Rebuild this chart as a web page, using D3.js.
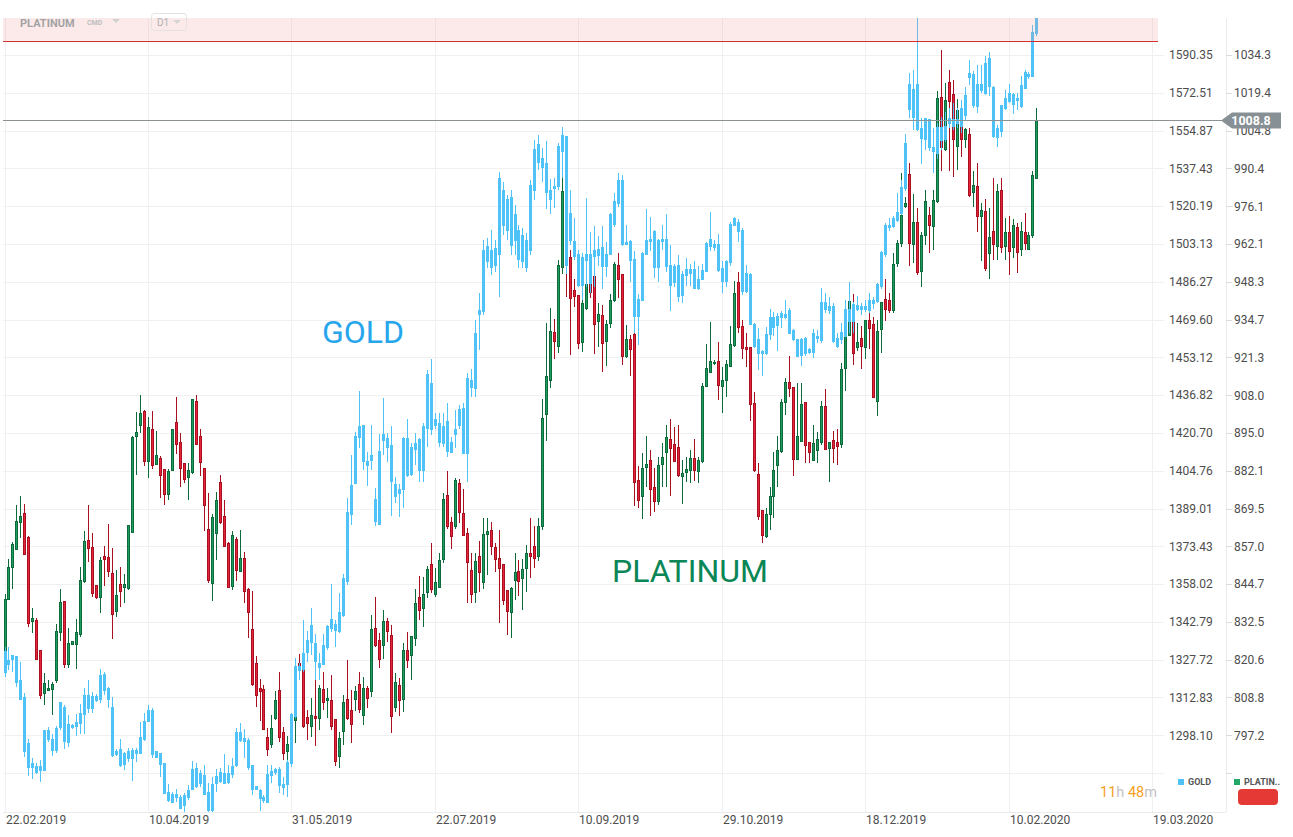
<!DOCTYPE html>
<html><head><meta charset="utf-8">
<script src="https://cdn.jsdelivr.net/npm/d3@7"></script>
<style>body{margin:0;background:#fff;overflow:hidden}svg{display:block;font-family:Roboto,"Noto Sans",sans-serif}</style>
</head><body><svg id="c" width="1293" height="837"></svg>
<script>
// ---------- DATA ----------
const dateLabels = ["22.02.2019","10.04.2019","31.05.2019","22.07.2019","10.09.2019","29.10.2019","18.12.2019","10.02.2020","19.03.2020"];
const dateTickBars = [0,36,72,108,144,180,216,252,288];
const goldTicks = [1590.35,1572.51,1554.87,1537.43,1520.19,1503.13,1486.27,1469.60,1453.12,1436.82,1420.70,1404.76,1389.01,1373.43,1358.02,1342.79,1327.72,1312.83,1298.10];
const platTicks = [1034.3,1019.4,1004.8,990.4,976.1,962.1,948.3,934.7,921.3,908.0,895.0,882.1,869.5,857.0,844.7,832.5,820.6,808.8,797.2];
const goldGridExtra = [1283.5];
const alertLevelPlat = 1039.9;

const goldOpen = [
1322.6,1327.3,1327.9,1329.0,1319.7,1312.9,1295.0,1285.6,1286.2,1286.2,
1284.7,1300.1,1296.3,1292.4,1301.1,1309.0,1295.4,1301.1,1301.7,1302.7,
1306.0,1313.8,1308.6,1313.4,1311.9,1321.7,1316.4,1309.0,1290.8,1292.8,
1286.9,1289.0,1289.0,1291.1,1291.1,1296.3,1303.6,1307.7,1292.0,1291.1,
1287.3,1276.2,1272.4,1275.4,1274.1,1271.3,1274.2,1277.3,1278.6,1279.6,
1282.8,1276.2,1269.2,1282.4,1280.2,1283.4,1279.9,1283.0,1286.4,1299.2,
1296.7,1295.9,1286.6,1278.3,1277.0,1274.2,1272.4,1282.8,1285.1,1285.1,
1278.1,1279.0,1287.3,1305.4,1325.2,1323.7,1330.7,1334.7,1334.3,1324.7,
1325.9,1332.5,1343.6,1341.6,1338.9,1345.5,1359.0,1386.6,1399.5,1418.8,
1423.8,1408.8,1409.0,1392.9,1382.5,1420.2,1418.4,1415.2,1399.2,1395.3,
1397.0,1418.4,1403.3,1416.3,1418.0,1404.8,1422.7,1441.8,1426.2,1424.8,
1416.3,1425.7,1412.5,1420.1,1423.7,1430.9,1412.1,1443.3,1439.7,1471.8,
1473.3,1502.2,1492.4,1501.3,1498.2,1527.5,1509.3,1523.9,1504.9,1509.3,
1495.1,1504.9,1500.4,1527.5,1540.3,1541.8,1539.5,1527.5,1528.4,1529.3,
1545.1,1552.1,1517.0,1504.4,1498.5,1484.4,1495.7,1498.5,1500.4,1497.9,
1501.4,1493.1,1498.5,1512.0,1521.5,1532.1,1503.0,1504.4,1496.3,1470.8,
1478.2,1498.5,1504.3,1508.9,1492.4,1504.1,1505.3,1493.7,1485.8,1493.4,
1480.2,1489.0,1491.5,1491.5,1483.3,1487.3,1490.7,1502.2,1501.5,1502.9,
1492.0,1486.3,1494.9,1511.3,1512.7,1509.3,1481.8,1489.5,1467.6,1460.8,
1455.8,1454.7,1463.1,1470.6,1466.9,1470.4,1471.9,1473.4,1464.6,1460.8,
1454.1,1454.7,1456.6,1455.3,1461.4,1460.6,1476.9,1473.4,1475.5,1457.7,
1460.9,1462.4,1474.1,1468.6,1474.1,1474.1,1475.2,1473.4,1476.7,1477.4,
1484.1,1498.2,1510.4,1510.9,1513.7,1517.0,1528.2,1576.2,1560.8,1576.5,
1555.9,1550.9,1559.8,1547.2,1544.4,1550.5,1550.9,1558.2,1559.8,1558.2,
1565.0,1561.7,1579.8,1581.2,1566.1,1576.2,1572.3,1588.5,1575.1,1551.7,
1554.4,1565.3,1568.5,1571.5,1570.0,1566.1,1574.7,1581.3,1580.4,1600.8];
const goldHigh = [
1332.7,1332.9,1329.5,1329.3,1326.7,1314.7,1296.6,1289.2,1287.3,1288.5,
1300.1,1301.2,1298.5,1301.8,1311.2,1309.9,1306.0,1302.5,1306.3,1310.2,
1316.4,1319.7,1315.1,1314.2,1323.9,1323.0,1316.8,1313.1,1292.8,1296.7,
1291.5,1293.1,1293.3,1293.3,1303.3,1306.7,1309.9,1308.6,1292.1,1291.4,
1287.4,1279.3,1276.4,1277.3,1275.2,1275.8,1279.0,1288.1,1287.3,1284.9,
1286.6,1279.6,1282.1,1285.1,1285.6,1290.9,1286.6,1289.5,1300.8,1302.7,
1300.5,1297.0,1286.8,1278.6,1277.3,1275.2,1286.6,1286.6,1285.5,1286.0,
1282.1,1288.5,1306.7,1328.3,1326.3,1343.6,1339.3,1348.3,1338.0,1330.3,
1338.0,1341.6,1358.0,1343.6,1354.3,1362.1,1393.3,1411.4,1421.2,1438.7,
1424.0,1412.7,1424.0,1397.4,1420.2,1435.7,1420.5,1423.7,1402.3,1399.2,
1419.1,1426.6,1416.3,1420.5,1418.4,1425.0,1447.6,1452.3,1429.3,1429.3,
1429.3,1433.6,1419.1,1430.5,1432.5,1433.3,1446.2,1447.9,1469.4,1481.2,
1504.9,1505.8,1509.3,1504.9,1535.8,1531.1,1525.3,1527.5,1520.7,1511.5,
1510.2,1507.9,1532.1,1550.5,1552.8,1546.7,1550.2,1532.6,1533.2,1549.0,
1556.7,1552.4,1527.5,1514.7,1500.4,1498.9,1523.8,1508.3,1511.3,1506.6,
1511.3,1504.1,1517.0,1526.3,1535.5,1534.4,1511.7,1504.9,1500.1,1480.9,
1499.4,1518.9,1515.2,1509.3,1505.3,1511.7,1516.7,1502.6,1494.3,1498.2,
1491.1,1496.9,1494.3,1495.3,1493.1,1494.3,1504.1,1517.7,1504.9,1507.5,
1495.3,1496.0,1513.1,1515.5,1514.4,1510.1,1493.7,1490.0,1468.2,1465.8,
1456.3,1466.5,1474.1,1473.0,1472.6,1473.4,1478.2,1474.5,1465.4,1461.2,
1461.4,1462.1,1457.0,1465.4,1465.0,1483.3,1481.2,1479.7,1476.7,1463.6,
1468.2,1478.2,1486.0,1477.4,1480.0,1477.1,1478.4,1481.2,1479.7,1485.6,
1500.1,1512.5,1514.7,1515.8,1526.0,1532.1,1553.3,1582.0,1583.3,1608.0,
1560.9,1560.9,1560.0,1555.9,1558.5,1561.1,1563.7,1565.3,1567.9,1565.3,
1569.1,1575.4,1588.0,1583.0,1585.6,1585.6,1589.9,1591.6,1575.8,1557.5,
1566.9,1573.8,1576.5,1572.6,1572.3,1580.4,1583.3,1582.2,1604.6,1609.5];
const goldLow = [
1321.0,1323.7,1323.0,1316.8,1311.9,1289.8,1282.5,1281.1,1283.2,1280.2,
1284.4,1295.6,1290.2,1291.4,1300.1,1292.7,1293.7,1300.5,1298.0,1298.6,
1298.5,1306.7,1306.7,1311.1,1310.6,1313.8,1308.6,1289.8,1290.1,1286.0,
1284.9,1287.9,1280.6,1287.9,1291.0,1296.0,1303.3,1289.2,1289.2,1282.1,
1275.5,1272.6,1272.0,1272.4,1269.8,1268.8,1273.3,1277.2,1277.7,1278.3,
1275.2,1268.8,1268.8,1276.4,1279.6,1279.3,1279.2,1281.5,1286.0,1295.6,
1289.2,1284.7,1275.2,1277.0,1269.2,1272.0,1272.0,1279.6,1283.0,1275.8,
1275.2,1274.5,1286.0,1305.0,1319.7,1323.0,1326.9,1329.6,1319.7,1319.7,
1325.8,1331.6,1338.9,1332.9,1338.2,1344.9,1357.7,1382.2,1399.2,1414.2,
1405.0,1398.4,1405.0,1381.8,1382.2,1411.4,1408.5,1385.9,1391.4,1385.4,
1389.1,1402.3,1402.5,1407.1,1400.2,1399.9,1414.9,1419.8,1422.2,1414.6,
1414.9,1410.6,1412.1,1414.2,1422.2,1412.0,1400.2,1436.1,1436.1,1456.3,
1471.6,1492.4,1489.2,1490.6,1479.5,1507.1,1504.9,1498.2,1498.2,1492.4,
1492.4,1490.6,1498.2,1523.0,1536.7,1531.4,1518.8,1516.7,1519.2,1527.5,
1533.0,1489.7,1502.6,1496.0,1483.8,1478.2,1484.1,1481.2,1484.1,1493.1,
1482.9,1488.5,1498.0,1510.9,1520.0,1502.2,1502.6,1486.3,1463.6,1458.7,
1477.9,1498.0,1500.1,1487.8,1486.3,1500.4,1490.7,1473.4,1483.8,1477.4,
1476.7,1484.5,1484.5,1482.9,1482.6,1487.0,1490.4,1500.1,1500.1,1490.7,
1481.2,1484.1,1493.1,1511.0,1504.1,1480.4,1481.2,1467.2,1457.0,1447.6,
1445.0,1454.0,1460.6,1462.4,1455.8,1466.0,1469.8,1463.2,1460.3,1453.7,
1449.4,1453.7,1454.7,1453.0,1459.4,1459.4,1472.6,1472.0,1459.4,1457.3,
1458.9,1461.8,1463.6,1463.6,1473.4,1471.6,1473.0,1472.6,1474.1,1476.7,
1482.9,1497.4,1509.0,1510.5,1512.8,1516.2,1527.2,1560.6,1555.2,1554.8,
1539.4,1545.9,1545.6,1535.5,1541.6,1545.9,1549.8,1555.9,1555.2,1555.9,
1553.6,1559.8,1576.2,1565.3,1563.2,1572.3,1571.5,1571.0,1551.3,1547.2,
1552.1,1564.5,1567.7,1562.6,1564.5,1565.3,1574.7,1578.9,1579.8,1599.3];
const goldClose = [
1330.9,1326.0,1329.3,1318.6,1312.1,1291.8,1285.6,1287.3,1283.7,1284.7,
1300.1,1296.3,1292.2,1300.8,1311.0,1295.6,1302.1,1302.0,1303.1,1306.4,
1313.8,1308.6,1313.4,1311.6,1321.3,1315.5,1311.9,1290.2,1292.0,1286.4,
1291.1,1292.0,1292.4,1292.2,1297.3,1303.6,1307.9,1290.8,1289.5,1286.9,
1275.8,1272.9,1275.2,1274.1,1270.1,1274.9,1276.7,1284.9,1285.3,1283.4,
1275.4,1269.2,1279.2,1279.6,1283.8,1279.6,1283.4,1286.0,1299.2,1295.9,
1295.6,1285.6,1277.3,1277.3,1273.7,1273.0,1283.0,1284.3,1283.7,1278.7,
1279.3,1287.6,1306.0,1325.2,1323.4,1330.1,1335.2,1341.2,1326.9,1326.3,
1333.2,1340.9,1340.2,1339.3,1346.5,1360.1,1387.5,1398.7,1419.1,1423.3,
1408.5,1407.1,1411.2,1383.6,1413.0,1417.6,1414.6,1400.2,1393.9,1397.0,
1418.4,1402.7,1414.6,1413.8,1405.0,1423.6,1445.7,1422.3,1423.7,1416.6,
1423.6,1412.9,1416.7,1422.3,1430.8,1412.1,1444.0,1440.0,1463.6,1473.7,
1500.0,1495.1,1500.4,1493.7,1533.0,1511.5,1523.0,1502.6,1516.2,1496.0,
1507.1,1492.4,1529.8,1545.9,1548.2,1537.7,1526.3,1523.0,1529.0,1547.4,
1552.4,1493.4,1504.6,1497.7,1484.4,1497.0,1498.6,1485.6,1497.4,1500.7,
1493.1,1498.5,1516.2,1522.2,1531.7,1503.0,1503.7,1495.7,1471.1,1478.5,
1498.9,1504.6,1505.3,1492.6,1504.9,1505.3,1493.1,1484.8,1493.1,1479.7,
1489.7,1491.5,1490.0,1483.3,1487.3,1491.1,1503.4,1505.3,1502.9,1491.3,
1486.3,1495.5,1511.9,1514.4,1508.8,1482.1,1490.0,1467.5,1457.7,1454.7,
1454.7,1463.1,1470.6,1466.0,1471.1,1472.3,1470.6,1463.6,1461.0,1453.7,
1461.0,1461.4,1455.1,1463.6,1462.4,1477.1,1474.1,1475.5,1459.8,1461.4,
1463.8,1474.1,1468.6,1476.3,1475.6,1475.2,1474.1,1478.2,1478.2,1485.1,
1499.4,1511.3,1511.3,1514.7,1517.3,1528.8,1549.0,1564.5,1574.2,1555.2,
1551.3,1560.3,1547.2,1545.1,1556.2,1556.4,1557.0,1560.6,1557.0,1560.1,
1557.0,1571.4,1581.7,1566.6,1576.2,1573.5,1586.4,1575.4,1552.1,1555.9,
1566.5,1570.0,1572.0,1567.2,1568.7,1575.8,1582.2,1580.1,1601.2,1608.5];

const platOpen = [
823.1,839.8,850.2,856.1,864.8,867.7,860.0,832.6,833.1,823.6,
810.1,810.9,811.4,814.1,829.1,839.2,819.0,825.3,825.3,828.7,
845.5,859.0,856.7,844.1,840.4,853.7,853.4,848.0,836.0,844.6,
843.5,843.3,861.6,893.7,897.6,902.4,885.2,896.2,884.4,886.3,
882.7,874.2,882.1,898.6,891.9,884.6,879.9,881.6,905.7,893.9,
883.0,862.4,845.0,861.3,878.2,867.0,858.0,843.9,859.4,848.8,
853.0,843.1,830.0,819.5,811.5,811.4,796.6,794.5,802.3,811.1,
798.1,792.4,794.0,801.7,819.5,817.4,802.7,799.8,803.1,802.3,
811.4,807.8,807.8,801.9,790.8,798.3,808.2,804.7,808.2,812.7,
803.4,811.6,810.6,830.5,826.5,825.0,832.7,828.2,805.7,812.4,
808.2,823.6,821.8,827.2,840.4,836.8,842.0,851.0,841.5,843.7,
852.8,873.9,865.0,863.5,877.9,867.9,861.3,849.2,842.0,853.8,
845.2,860.9,862.1,856.5,853.0,851.0,842.5,835.5,845.8,848.7,
846.6,849.6,854.7,857.1,853.6,863.5,901.5,913.1,930.2,925.0,
953.4,970.4,957.1,945.0,943.2,926.5,938.5,947.5,950.4,933.9,
936.3,926.8,933.2,941.6,954.3,950.8,921.5,927.6,929.3,878.7,
873.4,883.4,885.7,876.6,871.8,884.2,888.3,892.6,890.9,890.1,
880.1,881.4,882.1,886.4,881.8,885.2,911.0,916.1,919.0,919.9,
911.0,913.2,918.0,925.4,948.1,932.1,924.8,924.8,905.2,880.9,
868.7,860.2,867.4,873.6,884.0,888.5,905.4,912.4,910.7,886.0,
892.2,905.4,891.7,885.7,889.1,891.8,904.1,889.7,892.3,891.7,
890.9,917.3,928.9,940.0,924.9,928.0,924.8,934.2,933.0,905.7,
931.0,942.0,941.5,937.9,955.1,962.3,975.9,988.0,962.1,970.0,
952.0,965.1,972.5,968.6,977.8,1017.5,997.6,1023.5,1018.9,998.8,
1012.9,1001.4,1003.4,981.2,983.6,972.2,974.0,958.7,966.8,961.1,
982.1,961.1,966.2,960.7,968.4,960.1,966.3,960.2,965.4,986.7];
const platHigh = [
841.5,852.9,858.5,870.7,873.7,871.0,860.3,837.0,833.7,823.8,
816.5,814.3,813.7,831.8,843.1,839.4,830.7,826.5,833.4,850.4,
862.0,870.7,861.3,844.3,853.6,857.1,864.4,856.4,849.2,850.4,
848.0,864.0,893.9,902.1,908.0,902.9,900.5,902.5,895.6,887.1,
882.9,882.9,896.4,907.4,894.9,884.8,884.6,906.8,908.0,896.2,
883.2,874.6,867.6,875.0,880.7,872.3,858.5,862.1,860.2,862.4,
855.1,843.3,842.5,821.7,814.7,812.7,799.3,803.4,810.8,816.7,
799.8,797.1,797.5,812.0,822.3,817.6,805.0,808.6,816.4,812.7,
816.6,811.9,815.9,802.0,798.3,809.6,820.5,811.1,812.4,816.6,
815.3,812.4,834.7,840.4,828.9,836.3,833.7,831.5,816.4,814.8,
825.8,829.2,828.2,843.0,847.4,846.9,850.6,858.0,849.9,854.9,
874.6,882.0,866.6,879.6,879.2,875.9,863.0,854.7,854.9,858.7,
866.3,866.3,864.9,858.0,862.4,851.2,842.8,843.9,854.7,852.5,
852.8,857.4,866.3,863.7,866.3,906.7,933.4,938.7,934.8,956.1,
986.7,977.2,959.9,949.2,943.5,942.2,950.4,950.1,955.5,940.7,
940.0,934.5,944.0,955.5,958.7,950.9,932.8,929.1,930.1,883.7,
888.2,894.0,889.1,883.2,886.9,891.7,897.7,899.8,897.1,897.7,
885.7,886.9,889.1,892.9,886.9,912.2,926.0,934.0,920.5,926.8,
918.0,920.4,932.5,948.5,951.7,934.5,929.8,925.0,909.2,884.6,
869.0,869.6,876.8,888.5,894.1,906.6,914.1,921.7,910.9,912.4,
912.4,905.6,891.8,897.7,895.4,906.0,910.3,892.0,895.7,896.2,
919.4,932.8,942.0,943.9,933.6,932.5,934.5,936.9,935.7,934.5,
941.0,949.3,944.1,958.7,963.5,988.6,979.6,992.3,980.9,975.3,
966.6,982.1,975.9,982.1,1020.2,1036.3,1023.3,1028.4,1024.4,1016.9,
1014.0,1005.7,1005.7,989.2,992.3,977.2,979.0,975.3,986.7,984.5,
986.7,971.6,972.5,971.3,969.8,970.4,973.7,966.6,989.2,1013.4];
const platLow = [
822.1,839.6,843.1,855.8,859.6,854.0,831.0,829.1,820.5,808.2,
806.6,810.9,803.4,813.2,826.6,818.1,818.1,825.1,817.7,827.8,
845.0,852.0,840.4,839.8,835.3,844.2,847.1,827.0,834.0,837.2,
838.7,842.8,861.6,880.7,894.9,883.8,879.6,882.9,884.2,872.9,
870.7,872.3,882.0,887.7,876.8,878.1,872.3,881.2,890.8,880.3,
862.1,845.0,839.3,852.5,864.5,856.7,843.4,842.8,845.8,848.7,
838.5,827.5,812.5,806.0,801.7,798.8,791.0,793.3,801.9,795.3,
789.7,789.7,790.5,795.0,816.4,799.3,795.8,796.8,793.8,798.8,
805.0,802.4,798.8,787.9,787.3,794.3,802.0,795.0,804.8,803.9,
800.4,805.5,809.0,824.7,817.9,820.8,826.3,797.8,804.4,803.1,
804.4,817.9,814.3,825.0,833.3,830.8,840.1,841.7,840.6,843.5,
851.5,862.6,856.0,862.6,864.8,860.5,838.7,838.5,838.7,842.3,
843.0,847.6,854.1,848.7,832.1,837.9,828.5,827.5,839.6,840.9,
836.3,842.3,846.6,849.9,852.3,862.4,892.3,910.5,920.6,922.7,
951.1,942.7,922.1,939.2,924.4,923.0,938.0,942.4,922.4,925.0,
916.3,918.4,931.6,941.1,942.4,918.6,921.2,914.6,870.3,869.6,
866.0,876.8,867.0,868.4,870.7,876.8,876.8,873.7,885.2,880.1,
871.0,878.4,877.9,878.8,878.1,884.6,910.8,915.8,918.5,906.3,
902.0,907.4,917.9,925.0,929.8,920.6,918.0,899.0,881.8,865.7,
858.0,859.6,862.4,866.3,876.8,888.3,901.1,907.4,880.3,885.8,
891.9,884.8,884.6,885.6,884.6,890.9,889.1,878.4,884.6,884.0,
889.7,909.5,928.7,918.6,923.6,917.1,920.6,924.1,906.9,900.7,
922.7,934.3,937.2,937.2,953.7,961.1,975.3,954.0,955.1,950.8,
946.4,961.7,958.7,959.9,977.2,989.2,997.0,989.2,987.3,989.8,
994.8,998.0,979.6,975.9,966.6,955.8,952.1,949.5,956.1,956.3,
958.7,956.3,950.8,956.8,951.6,957.6,959.9,959.9,964.2,986.3];
const platClose = [
839.8,850.2,857.7,865.3,867.0,854.2,832.2,833.7,820.8,809.4,
813.2,811.7,813.0,829.5,838.9,819.0,825.8,826.2,829.2,846.0,
858.6,856.4,841.7,840.4,852.5,852.6,848.7,835.0,841.1,842.3,
844.6,864.0,893.6,895.3,901.7,885.2,896.9,883.8,887.4,880.4,
874.1,882.0,896.2,891.0,882.8,879.1,882.3,906.6,891.0,884.8,
870.6,845.8,866.4,872.3,864.8,856.9,843.7,860.7,849.0,853.0,
842.3,835.5,813.0,809.4,810.6,799.0,793.0,799.2,807.8,796.6,
791.8,794.5,796.5,803.1,818.4,799.8,800.9,803.4,802.3,811.6,
807.2,808.6,799.8,789.2,796.3,807.2,802.4,800.4,810.6,805.0,
811.7,808.6,830.0,825.0,820.8,832.8,829.4,802.9,813.5,807.8,
823.6,820.3,827.8,838.3,836.1,841.5,849.5,842.8,845.2,852.2,
872.6,863.5,860.2,878.7,868.1,860.7,851.7,841.5,851.9,848.4,
861.0,862.0,857.1,852.8,849.7,839.3,835.8,843.3,848.5,845.4,
849.4,854.7,853.8,853.0,863.4,900.0,914.6,930.5,926.8,954.3,
981.8,954.1,942.4,942.9,926.0,940.4,947.5,944.3,933.0,936.5,
926.2,933.0,941.6,954.6,949.2,921.5,927.6,924.1,878.2,872.3,
882.9,884.2,875.9,871.8,884.0,886.7,893.5,889.8,885.4,880.4,
881.2,882.7,886.4,882.1,885.5,911.0,917.4,919.9,919.6,911.4,
913.2,918.6,925.8,944.0,931.9,924.4,924.1,904.9,882.1,867.0,
860.7,867.6,873.4,882.1,889.1,905.4,912.3,910.4,886.0,893.7,
904.7,890.7,888.4,891.5,892.6,904.1,889.3,891.8,889.7,890.3,
917.0,928.8,941.1,922.7,926.6,925.0,934.2,931.6,907.4,930.6,
940.8,938.4,937.9,954.7,962.3,972.6,977.2,962.3,970.1,951.6,
965.4,978.0,968.9,978.4,1017.1,998.3,1016.5,1016.2,1001.2,1012.7,
1001.4,1005.3,980.2,983.9,972.2,974.4,953.3,964.5,962.0,981.7,
960.9,966.2,959.3,968.8,958.9,966.8,962.3,965.4,987.5,1008.8];

// ---------- LAYOUT ----------
const svg = d3.select("#c");
const P = {left:3, right:1158, top:18, bottom:812, sep:1226};
const x = d3.scaleLinear().domain([0, dateTickBars[dateTickBars.length-1]]).range([4.5, 1152]);
const yG = d3.scaleLog().domain([goldTicks[goldTicks.length-1], goldTicks[0]]).range([735.3, 55]);
const yP = d3.scaleLog().domain([platTicks[platTicks.length-1], platTicks[0]]).range([735.3, 55]);

const C = {gold:"#4fc3f7", up:"#1c9d5f", upEdge:"#0c6a3b", dn:"#e6243b", dnEdge:"#a8101f", grid:"#f0f0f0", text:"#4d4d4d"};

svg.append("defs").append("clipPath").attr("id","plotclip").append("rect")
  .attr("x",P.left).attr("y",P.top).attr("width",P.right-P.left).attr("height",P.bottom-P.top);

// grid
const grid = svg.append("g").attr("shape-rendering","crispEdges");
const hVals = goldTicks.concat(goldGridExtra);
grid.selectAll(".hg").data(hVals).join("line")
  .attr("x1",P.left).attr("x2",P.right+6).attr("y1",d=>Math.round(yG(d))+0.5).attr("y2",d=>Math.round(yG(d))+0.5)
  .attr("stroke",C.grid);
grid.selectAll(".vg").data(dateTickBars).join("line")
  .attr("x1",d=>Math.round(x(d))+0.5).attr("x2",d=>Math.round(x(d))+0.5)
  .attr("y1",P.top).attr("y2",P.bottom).attr("stroke",C.grid);
grid.append("line").attr("x1",P.left).attr("x2",P.sep).attr("y1",P.bottom+0.5).attr("y2",P.bottom+0.5).attr("stroke","#ebebeb");
grid.append("line").attr("x1",P.sep+0.5).attr("x2",P.sep+0.5).attr("y1",P.top).attr("y2",P.bottom).attr("stroke","#ebebeb");
grid.selectAll(".tk2").data(hVals).join("line")
  .attr("x1",P.sep).attr("x2",P.sep+6).attr("y1",d=>Math.round(yG(d))+0.5).attr("y2",d=>Math.round(yG(d))+0.5).attr("stroke","#dcdcdc");

const marks = svg.append("g").attr("clip-path","url(#plotclip)");

// platinum candles
const plat = platClose.map((c,i)=>({i,o:platOpen[i],h:platHigh[i],l:platLow[i],c}));
const gP = marks.append("g").attr("shape-rendering","crispEdges");
gP.selectAll("line").data(plat).join("line")
  .attr("x1",d=>Math.round(x(d.i))+0.5).attr("x2",d=>Math.round(x(d.i))+0.5)
  .attr("y1",d=>yP(d.h)).attr("y2",d=>yP(d.l))
  .attr("stroke",d=>d.c>=d.o?C.upEdge:C.dnEdge);
gP.selectAll("rect").data(plat).join("rect")
  .attr("x",d=>Math.round(x(d.i))-0.5).attr("width",2)
  .attr("y",d=>Math.min(yP(d.o),yP(d.c))).attr("height",d=>Math.max(1,Math.abs(yP(d.o)-yP(d.c))))
  .attr("fill",d=>d.c>=d.o?C.up:C.dn).attr("stroke",d=>d.c>=d.o?C.upEdge:C.dnEdge);

// gold candles
const gold = goldClose.map((c,i)=>({i,o:goldOpen[i],h:goldHigh[i],l:goldLow[i],c}));
const gG = marks.append("g").attr("shape-rendering","crispEdges");
gG.selectAll("line").data(gold).join("line")
  .attr("x1",d=>Math.round(x(d.i))+0.5).attr("x2",d=>Math.round(x(d.i))+0.5)
  .attr("y1",d=>yG(d.h)).attr("y2",d=>yG(d.l)).attr("stroke",C.gold);
gG.selectAll("rect").data(gold).join("rect")
  .attr("x",d=>Math.round(x(d.i))-0.5).attr("width",2)
  .attr("y",d=>Math.min(yG(d.o),yG(d.c))).attr("height",d=>Math.max(1,Math.abs(yG(d.o)-yG(d.c))))
  .attr("fill",d=>d.c>=d.o?"none":C.gold).attr("stroke",C.gold);

// alert band + line
const yAlert = yP(alertLevelPlat);
svg.append("rect").attr("x",P.left).attr("y",P.top).attr("width",P.right-P.left).attr("height",yAlert-P.top)
  .attr("fill","rgb(240,150,150)").attr("fill-opacity",0.2);
svg.append("line").attr("x1",P.left).attr("x2",P.right).attr("y1",Math.round(yAlert)+0.5).attr("y2",Math.round(yAlert)+0.5)
  .attr("stroke","#d32f2f").attr("shape-rendering","crispEdges");

// header
const hd = svg.append("g");
hd.append("text").attr("x",20).attr("y",26.5).attr("font-size",11).attr("font-weight","bold").attr("fill","#a3a3a3").text("PLATINUM");
hd.append("text").attr("x",87).attr("y",25).attr("font-size",7).attr("font-weight","bold").attr("fill","#bdbdbd").text("CMD");
hd.append("path").attr("d","M112,19L120,19L116,23Z").attr("fill","#d0d0d0");
hd.append("rect").attr("x",151.5).attr("y",13.5).attr("width",35).attr("height",17).attr("rx",3).attr("fill","none").attr("stroke","#e2e2e2");
hd.append("text").attr("x",157).attr("y",26).attr("font-size",10).attr("fill","#b0b0b0").text("D1");
hd.append("path").attr("d","M173,20L181,20L177,24Z").attr("fill","#d6d6d6");

// current price line
const lastP = platClose[platClose.length-1];
const yLast = Math.round(yP(lastP))+0.5;
svg.append("line").attr("x1",P.left).attr("x2",1222).attr("y1",yLast).attr("y2",yLast).attr("stroke","#8c9194").attr("shape-rendering","crispEdges");

// axis labels
const ax = svg.append("g").attr("font-size",12).attr("fill",C.text);
ax.selectAll(".gl").data(goldTicks).join("text").attr("x",1169).attr("y",d=>yG(d)).attr("dy","0.36em").text(d=>d.toFixed(2));
ax.selectAll(".pl").data(platTicks).join("text").attr("x",1234).attr("y",d=>yP(d)).attr("dy","0.36em").text(d=>d.toFixed(1));
ax.selectAll(".dl").data(dateTickBars).join("text").attr("x",d=>Math.round(x(d))+1).attr("y",824).text((d,i)=>dateLabels[i]);

// price tag (covers the axis label underneath, as in the terminal)
svg.append("path").attr("d",`M1221,${yLast}L1232,${yLast-8}L1281,${yLast-8}L1281,${yLast+8}L1232,${yLast+8}Z`).attr("fill","#879094");
svg.append("text").attr("x",1251).attr("y",yLast).attr("dy","0.36em").attr("text-anchor","middle").attr("font-size",12.5).attr("font-weight","bold").attr("fill","#fff").text(lastP.toFixed(1));

// big series labels
svg.append("text").attr("x",322).attr("y",342.5).attr("font-size",32).attr("fill","#27a6ec").text("GOLD");
svg.append("text").attr("x",612).attr("y",581.5).attr("font-size",32).attr("fill","#0b8656").text("PLATINUM");

// timer
const tm = svg.append("text").attr("x",1100).attr("y",797).attr("font-size",14.5);
tm.append("tspan").attr("fill","#f5a01e").text("11");
tm.append("tspan").attr("fill","#c2c2c2").text("h ");
tm.append("tspan").attr("fill","#f5a01e").text("48");
tm.append("tspan").attr("fill","#c2c2c2").text("m");

// legend
svg.append("rect").attr("x",1178).attr("y",779).attr("width",6).attr("height",6).attr("fill",C.gold);
svg.append("text").attr("x",1188).attr("y",785).attr("font-size",9).attr("font-weight","bold").attr("fill","#555").text("GOLD");
svg.append("rect").attr("x",1234).attr("y",779).attr("width",6).attr("height",6).attr("fill","#23a86a");
svg.append("text").attr("x",1244).attr("y",785).attr("font-size",9).attr("font-weight","bold").attr("fill","#555").text("PLATIN..");
svg.append("rect").attr("x",1238).attr("y",789).attr("width",40).attr("height",16).attr("rx",4).attr("fill","#e53935");
</script>
</body></html>
